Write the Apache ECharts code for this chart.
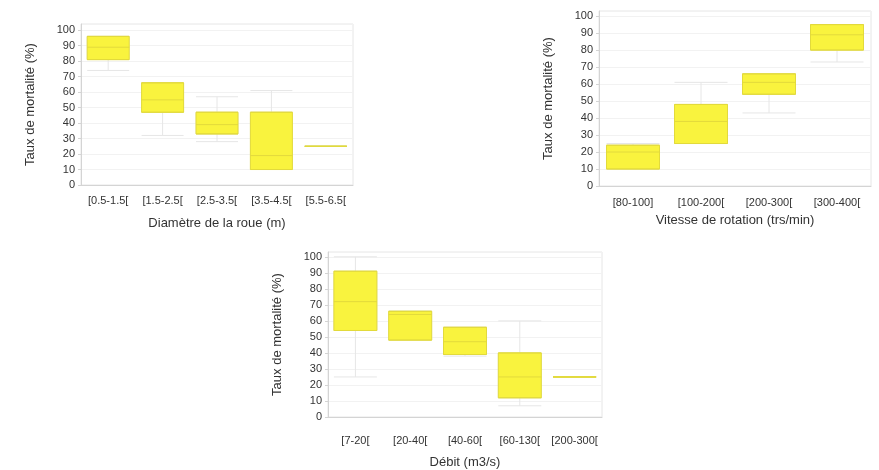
<!DOCTYPE html>
<html>
<head>
<meta charset="utf-8">
<script src="https://cdn.jsdelivr.net/npm/echarts@6/dist/echarts.min.js"></script>
<style>
  html, body { margin: 0; padding: 0; background: #fff; }
  #chart { width: 879px; height: 470px; }
</style>
</head>
<body>
<div id="chart"></div>
<script>
// box values: [min, Q1, median, Q3, max]
var diamCats = ['[0.5-1.5[', '[1.5-2.5[', '[2.5-3.5[', '[3.5-4.5[', '[5.5-6.5['];
var diamBoxes = [[74, 81, 89, 96, 96], [32, 47, 55, 66, 66], [28, 33, 39, 47, 57], [10, 10, 19, 47, 61], [25, 25, 25, 25, 25]];

var vitCats = ['[80-100]', '[100-200[', '[200-300[', '[300-400['];
var vitBoxes = [[10, 10, 20, 24, 25], [25, 25, 38, 48, 61], [43, 54, 61, 66, 66], [73, 80, 89, 95, 95]];

var debitCats = ['[7-20[', '[20-40[', '[40-60[', '[60-130[', '[200-300['];
var debitBoxes = [[25, 54, 72, 91, 100], [48, 48, 64, 66, 66], [38, 39, 47, 56, 56], [7, 12, 25, 40, 60], [25, 25, 25, 25, 25]];

var yTitle = 'Taux de mortalité (%)';
var yellow = '#f9f33e';
var txt = '#333';
var font = 'Liberation Sans, Arial, sans-serif';

// only the box part (Q1..Q3 with median), whiskers collapsed
function boxOnly(arr) {
  return arr.map(function (d) { return [d[1], d[1], d[2], d[3], d[3]]; });
}

function xAxes(gi, cats, name, gap, margin, hidden) {
  return {
    type: 'category', gridIndex: gi, data: cats,
    show: !hidden,
    name: name, nameLocation: 'middle', nameGap: gap,
    nameTextStyle: { color: txt, fontSize: 13, fontFamily: font },
    axisLine: { lineStyle: { color: '#d4d4d4' } },
    axisTick: { show: false },
    axisLabel: { color: txt, fontSize: 11, fontFamily: font, margin: margin, interval: 0 },
    splitLine: { show: false }
  };
}

function yAxis(gi, max) {
  return {
    type: 'value', gridIndex: gi, min: 0, max: max, interval: 10,
    name: yTitle, nameLocation: 'middle', nameGap: 44,
    nameTextStyle: { color: txt, fontSize: 13, fontFamily: font },
    axisLine: { show: true, lineStyle: { color: '#d4d4d4' } },
    axisTick: { show: true, length: 3, lineStyle: { color: '#d4d4d4' } },
    axisLabel: { color: txt, fontSize: 11, fontFamily: font, margin: 6, showMaxLabel: false },
    splitLine: { lineStyle: { color: '#f2f2f2' } }
  };
}

function series(gi, data, w) {
  return [{
    type: 'boxplot', xAxisIndex: gi, yAxisIndex: gi,
    boxWidth: [w, w],
    data: data,
    itemStyle: { color: 'rgba(0,0,0,0)', borderColor: '#e6e6e6', borderWidth: 1 },
    emphasis: { disabled: true }
  }, {
    type: 'boxplot', xAxisIndex: gi + 3, yAxisIndex: gi,
    boxWidth: [w, w],
    data: boxOnly(data),
    itemStyle: { color: yellow, borderColor: '#e2da3c', borderWidth: 1 },
    emphasis: { disabled: true }
  }];
}

var chart = echarts.init(document.getElementById('chart'));
chart.setOption({
  animation: false,
  textStyle: { fontFamily: font },
  grid: [
    { left: 81, top: 24, width: 272, height: 161, show: true, borderColor: '#e6e6e6', backgroundColor: '#fff' },
    { left: 599, top: 11, width: 272, height: 175, show: true, borderColor: '#e6e6e6', backgroundColor: '#fff' },
    { left: 328, top: 252, width: 274, height: 172, show: true, borderColor: '#e6e6e6', backgroundColor: '#fff' }
  ],
  xAxis: [
    xAxes(0, diamCats, 'Diamètre de la roue (m)', 32, 10, false),
    xAxes(1, vitCats, 'Vitesse de rotation (trs/min)', 28, 11, false),
    xAxes(2, debitCats, 'Débit (m3/s)', 39, 18, false),
    xAxes(0, diamCats, '', 0, 0, true),
    xAxes(1, vitCats, '', 0, 0, true),
    xAxes(2, debitCats, '', 0, 0, true)
  ],
  yAxis: [yAxis(0, 104), yAxis(1, 103), yAxis(2, 103)],
  series: [].concat(
    series(0, diamBoxes, 42),
    series(1, vitBoxes, 53),
    series(2, debitBoxes, 43)
  )
});
</script>
</body>
</html>
